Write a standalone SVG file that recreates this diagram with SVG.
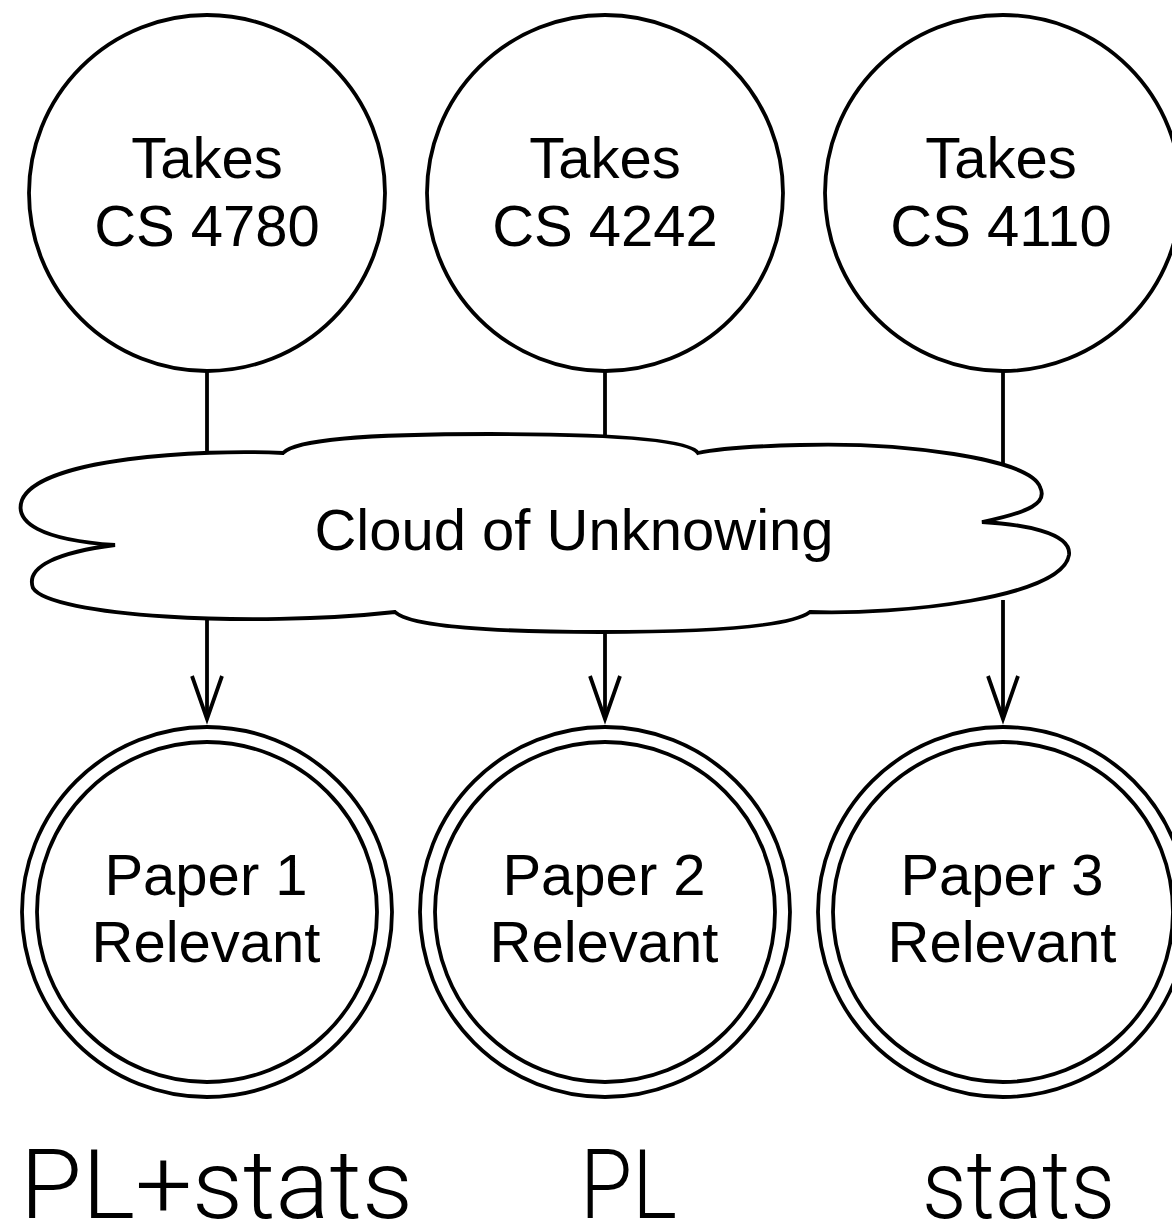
<svg xmlns="http://www.w3.org/2000/svg" width="1172" height="1227" viewBox="0 0 1172 1227">
  <style>
    .node { fill: #fff; stroke: #000; stroke-width: 3.8; }
    .edge { fill: none; stroke: #000; stroke-width: 3.8; }
    .lbl { font-family: "Liberation Sans", Arial, sans-serif; font-size: 58px; fill: #000; text-anchor: middle; }
    .tag { font-family: Roboto, "Liberation Sans", sans-serif; font-weight: 300; font-size: 97px; fill: #000; }
  </style>
  <defs>
    <marker id="vee" markerUnits="userSpaceOnUse" orient="auto" refX="0" refY="0" markerWidth="60" markerHeight="40" viewBox="-46 -20 50 40" overflow="visible">
      <path d="M -43 -15 L 0 0 L -43 15" fill="none" stroke="#000" stroke-width="3.8"/>
    </marker>
  </defs>

  <!-- connectors: course nodes into the cloud, cloud out to papers -->
  <g id="connectors">
    <line class="edge" x1="207" y1="371" x2="207" y2="480"/>
    <line class="edge" x1="605" y1="371" x2="605" y2="480"/>
    <line class="edge" x1="1003" y1="371" x2="1003" y2="480"/>
    <line class="edge" x1="207" y1="600" x2="207" y2="719" marker-end="url(#vee)"/>
    <line class="edge" x1="605" y1="600" x2="605" y2="719" marker-end="url(#vee)"/>
    <line class="edge" x1="1003" y1="600" x2="1003" y2="719" marker-end="url(#vee)"/>
  </g>

  <!-- course nodes -->
  <g id="takes-4780">
    <circle class="node" cx="207" cy="193" r="178"/>
    <text class="lbl" x="207" y="178">Takes</text>
    <text class="lbl" x="207" y="246">CS 4780</text>
  </g>
  <g id="takes-4242">
    <circle class="node" cx="605" cy="193" r="178"/>
    <text class="lbl" x="605" y="178">Takes</text>
    <text class="lbl" x="605" y="246">CS 4242</text>
  </g>
  <g id="takes-4110">
    <circle class="node" cx="1003" cy="193" r="178"/>
    <text class="lbl" x="1001" y="178">Takes</text>
    <text class="lbl" x="1001" y="246">CS 4110</text>
  </g>

  <!-- cloud -->
  <g id="cloud">
    <path class="node" d="M 283 453
      C 200 449 40 458 22 500
      C 14 522 40 540 115 545
      C 60 552 25 566 33 588
      C 50 616 250 628 395 612
      C 410 627 500 632 600 632
      C 700 632 790 627 810 612
      C 900 615 1062 598 1069 555
      C 1072 532 1020 524 982 522
      C 1030 512 1048 503 1040 487
      C 1030 458 900 442 800 445
      C 760 446 720 448 698 453
      C 690 440 620 434 490 434
      C 360 434 295 440 283 453 Z"/>
    <text class="lbl" x="574" y="550">Cloud of Unknowing</text>
  </g>

  <!-- paper nodes -->
  <g id="paper-1">
    <circle class="node" cx="207" cy="912" r="185"/>
    <circle class="node" cx="207" cy="912" r="170"/>
    <text class="lbl" x="206" y="895">Paper 1</text>
    <text class="lbl" x="206" y="962">Relevant</text>
  </g>
  <g id="paper-2">
    <circle class="node" cx="605" cy="912" r="185"/>
    <circle class="node" cx="605" cy="912" r="170"/>
    <text class="lbl" x="604" y="895">Paper 2</text>
    <text class="lbl" x="604" y="962">Relevant</text>
  </g>
  <g id="paper-3">
    <circle class="node" cx="1003" cy="912" r="185"/>
    <circle class="node" cx="1003" cy="912" r="170"/>
    <text class="lbl" x="1002" y="895">Paper 3</text>
    <text class="lbl" x="1002" y="962">Relevant</text>
  </g>

  <!-- category tags -->
  <text class="tag" x="20" y="1218" textLength="393" lengthAdjust="spacingAndGlyphs">PL+stats</text>
  <text class="tag" x="580" y="1218" textLength="97" lengthAdjust="spacingAndGlyphs">PL</text>
  <text class="tag" x="922" y="1218" textLength="193" lengthAdjust="spacingAndGlyphs">stats</text>
</svg>
